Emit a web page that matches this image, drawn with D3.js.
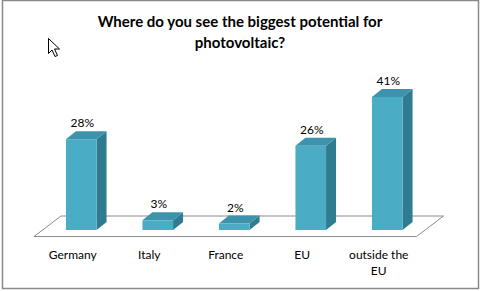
<!DOCTYPE html>
<html>
<head>
<meta charset="utf-8">
<script src="https://cdn.jsdelivr.net/npm/d3@7"></script>
<style>
  body { margin: 0; background: #fff; }
  text { font-family: Lato, "Open Sans", sans-serif; fill: #000; }
</style>
</head>
<body>
<svg id="chart" width="482" height="291"></svg>
<script>
"use strict";

// data
let categories = ["Germany", "Italy", "France", "EU", "outside the EU"];
let values = [28, 3, 2, 26, 41];
let titleLines = ["Where do you see the biggest potential for", "photovoltaic?"];

// 3d look
let depth = {dx: 10, dy: -8};          // bar depth
let floorDepth = {dx: 27, dy: -20.5};  // whole floor depth
let barPlane = {dx: 9, dy: -6.5};      // where bars stand inside the floor
let floorFrontY = 236.5;

let colors = {front: "#4bacc6", top: "#3c93ab", side: "#2f7b8f"};

let svg = d3.select("#chart");

// border
svg.append("rect")
  .attr("x", 2.5).attr("y", 0.5)
  .attr("width", 476).attr("height", 288)
  .attr("fill", "none")
  .attr("stroke", "#8a8a8a")
  .attr("stroke-width", 1.5);

// title
svg.append("text")
  .attr("x", 240)
  .attr("text-anchor", "middle")
  .style("font-weight", "bold")
  .style("font-size", "15px")
  .selectAll("tspan")
  .data(titleLines)
  .join("tspan")
    .attr("x", 240)
    .attr("y", (d, i) => 27 + i * 20.5)
    .text(d => d);

// scales (in the plane where bars stand)
let xScale = d3.scaleBand()
  .domain(categories)
  .range([43, 425.5])
  .paddingInner(0.6)
  .paddingOuter(0.3);

let baseY = floorFrontY + barPlane.dy;
let yScale = d3.scaleLinear()
  .domain([0, 41])
  .range([baseY, 97]);

// floor
let fx0 = xScale.range()[0] - barPlane.dx;
let fx1 = xScale.range()[1] - barPlane.dx;
let floorPts = [
  [fx0, floorFrontY],
  [fx1, floorFrontY],
  [fx1 + floorDepth.dx, floorFrontY + floorDepth.dy],
  [fx0 + floorDepth.dx, floorFrontY + floorDepth.dy]
];
svg.append("path")
  .attr("d", d3.line()(floorPts) + "Z")
  .attr("fill", "#fff")
  .attr("stroke", "#8c8c8c")
  .attr("stroke-width", 1);

// bars
let data = categories.map((c, i) => ({cat: c, val: values[i]}));
let bw = xScale.bandwidth();

let bars = svg.append("g").selectAll("g")
  .data(data)
  .join("g");

bars.append("path")   // side
  .attr("fill", colors.side)
  .attr("d", d => {
    let x = xScale(d.cat) + bw, y0 = yScale(0), y1 = yScale(d.val);
    return d3.line()([[x, y0], [x + depth.dx, y0 + depth.dy],
      [x + depth.dx, y1 + depth.dy], [x, y1]]) + "Z";
  });

bars.append("path")   // top
  .attr("fill", colors.top)
  .attr("d", d => {
    let x = xScale(d.cat), y1 = yScale(d.val);
    return d3.line()([[x, y1], [x + bw, y1],
      [x + bw + depth.dx, y1 + depth.dy], [x + depth.dx, y1 + depth.dy]]) + "Z";
  });

bars.append("rect")   // front
  .attr("fill", colors.front)
  .attr("x", d => xScale(d.cat))
  .attr("y", d => yScale(d.val))
  .attr("width", bw)
  .attr("height", d => yScale(0) - yScale(d.val));

// value labels
bars.append("text")
  .attr("x", d => xScale(d.cat) + bw / 2 + 1)
  .attr("y", d => yScale(d.val) + depth.dy - 4)
  .attr("text-anchor", "middle")
  .style("font-size", "12px")
  .text(d => d.val + "%");

// category labels, wrapped like the original
let catLines = {"outside the EU": ["outside the", "EU"]};
svg.append("g").selectAll("text")
  .data(categories)
  .join("text")
    .attr("text-anchor", "middle")
    .style("font-size", "12px")
    .each(function(c) {
      let lines = catLines[c] || [c];
      let cx = xScale(c) + bw / 2 - 8.5;
      d3.select(this).selectAll("tspan")
        .data(lines)
        .join("tspan")
          .attr("x", cx)
          .attr("y", (d, i) => 259 + i * 16)
          .text(d => d);
    });

// mouse pointer that sits in the screenshot
svg.append("path")
  .attr("transform", "translate(48.5,38.5)")
  .attr("d", "M0,0 L0,15 L3.5,11.5 L6.5,18 L9,17 L6,10.5 L11,10.5 Z")
  .attr("fill", "#fff")
  .attr("stroke", "#000")
  .attr("stroke-width", 1);
</script>
</body>
</html>
